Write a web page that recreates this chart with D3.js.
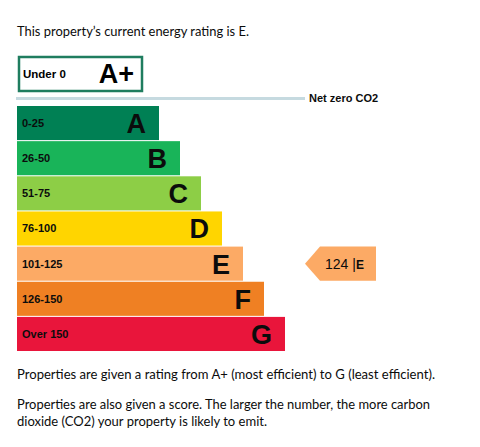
<!DOCTYPE html>
<html>
<head>
<meta charset="utf-8">
<script src="https://cdn.jsdelivr.net/npm/d3@7"></script>
<style>
  body { margin: 0; background: #fff; }
  svg { display: block; }
</style>
</head>
<body>
<script>
// rating bands, their score ranges and the current score
const bands    = ['A', 'B', 'C', 'D', 'E', 'F', 'G'];
const ranges   = ['0-25', '26-50', '51-75', '76-100', '101-125', '126-150', 'Over 150'];
const topBand  = 'A+';
const topRange = 'Under 0';
const bandMins = [0, 26, 51, 76, 101, 126, 151];
const score    = 124;

const width  = 480,
      height = 447,
      bandColor = d3.scaleOrdinal()
        .domain(bands)
        .range(['#008054', '#19b459', '#8dce46', '#ffd500', '#fcaa65', '#ef8023', '#e9153b']),
      textFont  = 'Lato, "Noto Sans", sans-serif',
      chartFont = '"Liberation Sans", Arial, sans-serif';

const svg = d3.select('body').append('svg')
  .attr('width', width)
  .attr('height', height);

// score -> band
const bandOf = d3.scaleThreshold()
  .domain(bandMins)
  .range([topBand].concat(bands));

// bar length grows with each band
const x = d3.scaleLinear().domain([0, bands.length - 1]).range([159, 285]);
const y = d3.scaleBand().domain(bands).range([106, 351]).paddingInner(0.03);
const left = 17;

// body copy is a narrow font in the original, so squeeze Lato to its width
const bodyText = (sel, w) => sel
  .attr('font-family', textFont).attr('font-size', 14).attr('fill', '#0b0c0c')
  .attr('textLength', w).attr('lengthAdjust', 'spacingAndGlyphs');

svg.append('text')
  .attr('x', 17).attr('y', 36)
  .text(`This property\u2019s current energy rating is ${bandOf(score)}.`)
  .call(bodyText, 232);

// A+ box
const topG = svg.append('g');
topG.append('rect')
  .attr('x', 19).attr('y', 57).attr('width', 123).attr('height', 34)
  .attr('fill', '#fff').attr('stroke', '#1f7d5f').attr('stroke-width', 2.5);
topG.append('text')
  .attr('x', 23).attr('y', 78)
  .attr('font-family', chartFont).attr('font-weight', 'bold').attr('font-size', 11.5)
  .text(topRange);
topG.append('text')
  .attr('x', 134).attr('y', 83).attr('text-anchor', 'end')
  .attr('font-family', chartFont).attr('font-weight', 'bold').attr('font-size', 27)
  .text(topBand);

// net zero line
svg.append('line')
  .attr('x1', 16).attr('x2', 305).attr('y1', 98.5).attr('y2', 98.5)
  .attr('stroke', '#c6dae0').attr('stroke-width', 3);
svg.append('text')
  .attr('x', 309).attr('y', 102)
  .attr('font-family', chartFont).attr('font-weight', 'bold').attr('font-size', 11)
  .attr('fill', '#0b0c0c')
  .text('Net zero CO2');

// bars
const bar = svg.append('g').selectAll('g')
  .data(bands)
  .join('g')
  .attr('transform', d => `translate(0,${y(d)})`);

bar.append('rect')
  .attr('x', left)
  .attr('width', (d, i) => x(i) - left)
  .attr('height', y.bandwidth())
  .attr('fill', d => bandColor(d));

bar.append('text')
  .attr('x', 22).attr('y', y.bandwidth() / 2 + 4)
  .attr('font-family', chartFont).attr('font-weight', 'bold').attr('font-size', 11)
  .attr('fill', '#0b0c0c')
  .text((d, i) => ranges[i]);

bar.append('text')
  .attr('x', (d, i) => x(i) - 13).attr('y', y.bandwidth() / 2 + 10)
  .attr('text-anchor', 'end')
  .attr('font-family', chartFont).attr('font-weight', 'bold').attr('font-size', 27)
  .attr('fill', '#0b0c0c')
  .text(d => d);

// score arrow on the current band
const cur = bandOf(score);
const ay = y(cur), ah = y.bandwidth();
const arrow = svg.append('g');
arrow.append('path')
  .attr('d', d3.line()([[305, ay + ah / 2], [320, ay], [376, ay], [376, ay + ah], [320, ay + ah]]))
  .attr('fill', bandColor(cur));
const label = arrow.append('text')
  .attr('x', 325).attr('y', ay + ah / 2 + 5)
  .attr('font-family', chartFont).attr('font-size', 14)
  .attr('fill', '#0b0c0c');
label.append('tspan').text(`${score} |`);
label.append('tspan').attr('font-weight', 'bold').attr('font-size', 12).text(cur);

// footnotes
const notes = [
  ['Properties are given a rating from A+ (most efficient) to G (least efficient).', 379, 418],
  ['Properties are also given a score. The larger the number, the more carbon', 409, 413],
  ['dioxide (CO2) your property is likely to emit.', 426, 250]
];
svg.append('g').selectAll('text')
  .data(notes)
  .join('text')
  .attr('x', 17).attr('y', d => d[1])
  .text(d => d[0])
  .each(function(d) { d3.select(this).call(bodyText, d[2]); });
</script>
</body>
</html>
